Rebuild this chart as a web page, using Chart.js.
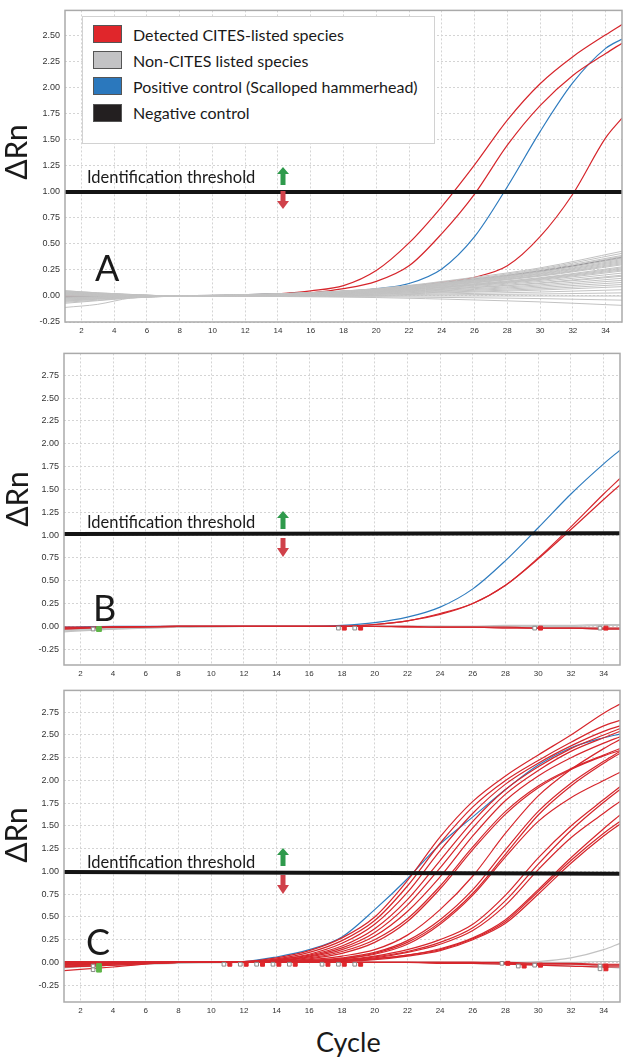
<!DOCTYPE html>
<html>
<head>
<meta charset="utf-8">
<script src="https://cdn.jsdelivr.net/npm/chart.js@4.4.1/dist/chart.umd.min.js"></script>
<style>
    body { margin: 0; background: #fff; }
    #fig { position: relative; width: 625px; height: 1057px; overflow: hidden; font-family: Lato, sans-serif; color: #1a1a1a; }
    canvas { position: absolute; left: 0; }
    .txt { position: absolute; line-height: 1; white-space: nowrap; }
    .rn { position: absolute; font-size: 30px; line-height: 1; white-space: nowrap; transform: translate(-50%, -50%) rotate(-90deg); }
    .letter { position: absolute; font-size: 36px; line-height: 1; }
    .thr { position: absolute; font-size: 16.5px; line-height: 1; white-space: nowrap; }
    #legend { position: absolute; left: 82px; top: 16px; width: 351px; height: 126px; border: 1.5px solid #d2d2d2; background: #fff; }
    .sw { position: absolute; left: 10px; width: 27px; height: 16px; border: 1px solid #555; }
    .lt { position: absolute; left: 50px; font-size: 16px; line-height: 1; white-space: nowrap; }
    svg { position: absolute; }
</style>
</head>
<body>
<div id="fig">
    <canvas id="chartA" width="625" height="340" style="top:0px"></canvas>
    <canvas id="chartB" width="625" height="340" style="top:343px"></canvas>
    <canvas id="chartC" width="625" height="345" style="top:680px"></canvas>

    <div id="legend">
        <div class="sw" style="top:8px;background:#e0262b"></div>
        <div class="lt" style="top:10px">Detected CITES-listed species</div>
        <div class="sw" style="top:34px;background:#c3c3c5"></div>
        <div class="lt" style="top:36px">Non-CITES listed species</div>
        <div class="sw" style="top:60px;background:#2b78bd"></div>
        <div class="lt" style="top:62px">Positive control (Scalloped hammerhead)</div>
        <div class="sw" style="top:87px;background:#231f20"></div>
        <div class="lt" style="top:88px">Negative control</div>
    </div>

    <div class="rn" style="left:15px;top:152px">ΔRn</div>
    <div class="rn" style="left:16px;top:499px">ΔRn</div>
    <div class="rn" style="left:15px;top:835px">ΔRn</div>

    <div class="letter" style="left:95px;top:249px">A</div>
    <div class="letter" style="left:93px;top:589px">B</div>
    <div class="letter" style="left:86px;top:923px">C</div>

    <div class="thr" style="left:87px;top:169px">Identification threshold</div>
    <div class="thr" style="left:87px;top:514px">Identification threshold</div>
    <div class="thr" style="left:87px;top:854px">Identification threshold</div>

    <div class="txt" style="left:316px;top:1028px;font-size:27px">Cycle</div>
</div>

<script>
// cycles at which the amplification curves were read
var cycles = [1, 4, 8, 12, 14, 16, 18, 20, 22, 24, 26, 28, 30, 32, 34, 35];
var greyCycles = [1, 3, 5, 8, 14, 20, 26, 30, 35];
var lineEnds = [1, 35];

var cycleTicks = [2, 4, 6, 8, 10, 12, 14, 16, 18, 20, 22, 24, 26, 28, 30, 32, 34];
var rnTicksA = [-0.25, 0, 0.25, 0.5, 0.75, 1, 1.25, 1.5, 1.75, 2, 2.25, 2.5];
var rnTicksBC = [-0.25, 0, 0.25, 0.5, 0.75, 1, 1.25, 1.5, 1.75, 2, 2.25, 2.5, 2.75];

// ---------- panel A ----------
var aRed = [
    [0, 0, 0, 0, 0.02, 0.05, 0.1, 0.245, 0.51, 0.86, 1.26, 1.69, 2.04, 2.3, 2.51, 2.61],
    [0, 0, 0, 0, 0.01, 0.03, 0.07, 0.14, 0.29, 0.6, 0.98, 1.45, 1.83, 2.12, 2.33, 2.43],
    [0, 0, 0, 0, 0, 0.01, 0.03, 0.06, 0.09, 0.13, 0.18, 0.29, 0.57, 0.98, 1.52, 1.71]
];
var aBlue = [0, 0, 0, 0, 0, 0.01, 0.03, 0.07, 0.12, 0.26, 0.57, 1.05, 1.58, 2.05, 2.38, 2.47];
var aNegative = [-0.01, -0.006, -0.003, 0, 0.02, 0.065, 0.16, 0.24, 0.37];
var aGrey = [
    [0.04, 0.025, 0.012, 0, 0.02, 0.07, 0.18, 0.27, 0.43],
    [-0.02, -0.012, -0.006, 0, 0.02, 0.07, 0.17, 0.26, 0.41],
    [0.03, 0.018, 0.009, 0, 0.02, 0.066, 0.16, 0.25, 0.39],
    [-0.05, -0.03, -0.015, 0, 0.02, 0.065, 0.16, 0.24, 0.38],
    [0.01, 0.006, 0.003, 0, 0.018, 0.063, 0.155, 0.23, 0.37],
    [0.05, 0.03, 0.015, 0, 0.018, 0.06, 0.15, 0.23, 0.36],
    [-0.03, -0.018, -0.009, 0, 0.017, 0.06, 0.147, 0.22, 0.35],
    [0.02, 0.012, 0.006, 0, 0.017, 0.058, 0.143, 0.214, 0.34],
    [-0.06, -0.04, -0.018, 0, 0.016, 0.056, 0.139, 0.208, 0.33],
    [0, 0, 0, 0, 0.016, 0.054, 0.134, 0.2, 0.32],
    [0.03, 0.018, 0.009, 0, 0.015, 0.053, 0.13, 0.195, 0.31],
    [-0.01, -0.006, -0.003, 0, 0.015, 0.051, 0.126, 0.19, 0.3],
    [0.04, 0.024, 0.012, 0, 0.014, 0.048, 0.118, 0.176, 0.28],
    [-0.04, -0.024, -0.012, 0, 0.013, 0.046, 0.113, 0.17, 0.27],
    [0.02, 0.012, 0.006, 0, 0.013, 0.044, 0.109, 0.164, 0.26],
    [-0.11, -0.08, -0.02, 0, 0.012, 0.043, 0.105, 0.158, 0.25],
    [0.01, 0.006, 0.003, 0, 0.012, 0.041, 0.1, 0.15, 0.24],
    [-0.02, -0.012, -0.006, 0, 0.011, 0.037, 0.092, 0.139, 0.22],
    [0.05, 0.03, 0.015, 0, 0.01, 0.034, 0.084, 0.126, 0.2],
    [-0.07, -0.045, -0.02, 0, 0.01, 0.032, 0.08, 0.12, 0.19],
    [0.02, 0.012, 0.006, 0, 0.009, 0.029, 0.071, 0.107, 0.17],
    [-0.03, -0.018, -0.009, 0, 0.008, 0.026, 0.063, 0.095, 0.15],
    [0.03, 0.018, 0.009, 0, 0.007, 0.022, 0.055, 0.082, 0.13],
    [-0.05, -0.03, -0.015, 0, 0.006, 0.019, 0.046, 0.069, 0.11],
    [0, 0, 0, 0, 0.005, 0.015, 0.038, 0.057, 0.09],
    [0.04, 0.024, 0.012, 0, 0.003, 0.01, 0.025, 0.038, 0.06],
    [-0.02, -0.012, -0.006, 0, 0.002, 0.005, 0.013, 0.019, 0.03],
    [0.01, 0.006, 0.003, 0, 0, 0, 0, 0, 0],
    [-0.04, -0.024, -0.012, 0, -0.002, -0.007, -0.017, -0.025, -0.04],
    [0.02, 0.012, 0.006, 0, -0.005, -0.015, -0.038, -0.057, -0.09]
];
var aThreshold = [1.0, 1.0];

// ---------- panel B ----------
var bBlue = [-0.01, 0, 0, 0, 0, 0, 0.01, 0.04, 0.1, 0.21, 0.41, 0.72, 1.08, 1.45, 1.78, 1.93];
var bRed = [
    [-0.02, -0.01, 0, 0, 0, 0, 0, 0.02, 0.06, 0.14, 0.25, 0.45, 0.75, 1.09, 1.45, 1.62],
    [-0.03, -0.01, 0, 0, 0, 0, 0, 0.02, 0.06, 0.13, 0.25, 0.45, 0.74, 1.06, 1.39, 1.55],
    [-0.02, -0.01, 0, 0, 0, 0, 0, 0, -0.01, -0.01, -0.01, -0.02, -0.02, -0.02, -0.02, -0.02],
    [-0.01, -0.01, 0, 0, 0, 0, 0, 0, 0, -0.01, -0.01, -0.01, -0.02, -0.02, -0.03, -0.03]
];
var bGrey = [
    [-0.04, -0.02, 0, 0, 0, 0, 0, 0, 0, 0, 0, 0.01, 0.01, 0.01, 0.02, 0.02],
    [-0.06, -0.03, -0.01, 0, 0, 0, 0, 0, 0, 0, 0, 0, 0, 0, 0.01, 0.01],
    [-0.03, -0.02, 0, 0, 0, 0, 0, 0, 0, -0.01, -0.01, -0.01, -0.02, -0.02, -0.03, -0.03],
    [-0.05, -0.03, -0.01, 0, 0, 0, 0, 0, 0, 0, -0.01, -0.01, -0.01, -0.01, -0.02, -0.02]
];
var bThreshold = [1.01, 1.02];
var bMarkCycles = [18, 19, 30, 34];
var bMarkValues = [-0.02, -0.02, -0.02, -0.02];
var bGreenCycles = [3];
var bGreenValues = [-0.03];

// ---------- panel C ----------
var cBlue = [0, 0, 0, 0.01, 0.06, 0.14, 0.28, 0.58, 0.92, 1.3, 1.6, 1.9, 2.17, 2.36, 2.47, 2.51];
var cRed = [
    [0, 0, 0, 0.01, 0.05, 0.13, 0.27, 0.5, 0.9, 1.38, 1.77, 2.05, 2.28, 2.5, 2.74, 2.84],
    [-0.01, 0, 0, 0.01, 0.04, 0.11, 0.24, 0.46, 0.84, 1.31, 1.71, 2.0, 2.22, 2.42, 2.6, 2.66],
    [0.01, 0, 0, 0, 0.03, 0.09, 0.21, 0.42, 0.77, 1.23, 1.64, 1.96, 2.19, 2.38, 2.54, 2.6],
    [-0.02, -0.01, 0, 0, 0.03, 0.08, 0.18, 0.37, 0.69, 1.12, 1.55, 1.9, 2.15, 2.35, 2.5, 2.57],
    [0, 0, 0, 0, 0.02, 0.07, 0.16, 0.33, 0.63, 1.04, 1.48, 1.85, 2.11, 2.32, 2.47, 2.54],
    [-0.03, -0.01, 0, 0, 0.02, 0.06, 0.14, 0.29, 0.56, 0.94, 1.39, 1.78, 2.05, 2.25, 2.41, 2.48],
    [-0.01, 0, 0, 0, 0.02, 0.05, 0.12, 0.25, 0.48, 0.84, 1.27, 1.66, 1.94, 2.13, 2.28, 2.35],
    [-0.04, -0.02, 0, 0, 0.01, 0.04, 0.1, 0.22, 0.45, 0.81, 1.24, 1.63, 1.92, 2.12, 2.27, 2.33],
    [0, 0, 0, 0, 0.01, 0.03, 0.07, 0.14, 0.3, 0.58, 0.95, 1.42, 1.83, 2.12, 2.35, 2.45],
    [-0.02, -0.01, 0, 0, 0.01, 0.02, 0.05, 0.11, 0.24, 0.47, 0.8, 1.24, 1.66, 1.97, 2.21, 2.32],
    [0.01, 0, 0, 0, 0, 0.02, 0.04, 0.1, 0.22, 0.44, 0.76, 1.19, 1.62, 1.94, 2.19, 2.3],
    [-0.03, -0.01, 0, 0, 0, 0.02, 0.04, 0.09, 0.2, 0.42, 0.74, 1.16, 1.55, 1.81, 2.0, 2.09],
    [0, 0, 0, 0, 0, 0.01, 0.03, 0.07, 0.14, 0.25, 0.42, 0.74, 1.15, 1.5, 1.79, 1.93],
    [-0.01, 0, 0, 0, 0, 0.01, 0.02, 0.06, 0.12, 0.22, 0.38, 0.68, 1.08, 1.45, 1.76, 1.9],
    [-0.02, -0.01, 0, 0, 0, 0.01, 0.02, 0.05, 0.11, 0.2, 0.35, 0.63, 1.02, 1.37, 1.64, 1.77],
    [0, 0, 0, 0, 0, 0, 0.02, 0.04, 0.08, 0.15, 0.27, 0.47, 0.8, 1.15, 1.47, 1.62],
    [-0.05, -0.03, 0, 0, 0, 0, 0.01, 0.04, 0.08, 0.14, 0.26, 0.45, 0.78, 1.12, 1.42, 1.55],
    [-0.09, -0.05, 0, 0, 0, 0, 0.01, 0.03, 0.07, 0.13, 0.25, 0.43, 0.75, 1.09, 1.39, 1.52],
    // non amplified
    [-0.02, -0.01, 0, 0, 0, 0, 0, 0, 0, 0, 0, -0.01, -0.02, -0.02, -0.03, -0.03],
    [-0.05, -0.03, 0, 0, 0, 0, 0, 0, 0, -0.01, -0.01, -0.02, -0.03, -0.04, -0.05, -0.05],
    [0.01, 0, 0, 0, 0, 0, 0, 0, 0, 0, 0, 0, -0.01, -0.01, -0.02, -0.02]
];
var cGrey = [
    [-0.02, -0.01, 0, 0, 0, 0, 0, 0, 0, 0, 0, 0, 0.01, 0.05, 0.14, 0.21],
    [-0.03, -0.02, 0, 0, 0, 0, 0, 0, 0, 0, 0, -0.01, -0.01, -0.02, -0.03, -0.03],
    [-0.04, -0.02, 0, 0, 0, 0, 0, 0, 0, 0, 0, 0, 0, 0, 0.01, 0.01],
    [-0.06, -0.03, -0.01, 0, 0, 0, 0, 0, 0, 0, -0.01, -0.02, -0.03, -0.04, -0.05, -0.06]
];
var cThreshold = [0.995, 0.975];
var cMarkCycles = [11, 12, 13, 14, 15, 17, 18, 19, 28, 29, 30, 34, 34];
var cMarkValues = [-0.02, -0.02, -0.02, -0.02, -0.02, -0.02, -0.02, -0.02, -0.01, -0.04, -0.03, -0.04, -0.07];
var cGreenCycles = [3, 3];
var cGreenValues = [-0.04, -0.08];

var RED = '#d6262c';
var BLUE = '#2f7cbf';
var GREY = '#c2c2c2';

function pts(xs, ys, dx) {
    var out = [];
    for (var i = 0; i < ys.length; i++) {
        out.push({ x: xs[i] + (dx || 0), y: ys[i] });
    }
    return out;
}

function curve(xs, ys, color, width, order) {
    return {
        data: pts(xs, ys),
        borderColor: color,
        borderWidth: width,
        pointRadius: 0,
        cubicInterpolationMode: 'monotone',
        order: order
    };
}

function threshold(ys) {
    return { data: pts(lineEnds, ys), borderColor: '#141414', borderWidth: 4, pointRadius: 0, order: -1 };
}

function markers(xs, ys, fill, size) {
    // each Ct marker is a small outlined box followed by a filled box
    return [
        { data: pts(xs, ys, -0.22), showLine: false, pointStyle: 'rect', pointRadius: 2.6,
          pointBackgroundColor: '#fff', pointBorderColor: '#8a8a8a', pointBorderWidth: 1, order: -2 },
        { data: pts(xs, ys, 0.14), showLine: false, pointStyle: 'rect', pointRadius: size,
          pointBackgroundColor: fill, pointBorderColor: fill, pointBorderWidth: 1, order: -3 }
    ];
}

var boxPlugin = {
    id: 'box',
    afterDraw: function (chart) {
        var a = chart.chartArea;
        var ctx = chart.ctx;
        ctx.save();
        ctx.strokeStyle = '#aaaaaa';
        ctx.lineWidth = 1.5;
        ctx.strokeRect(a.left, a.top, a.right - a.left, a.bottom - a.top);
        ctx.restore();
    }
};

function options(yMin, yMax, yTicks, padTop, padRight, xH, yW) {
    return {
        responsive: false,
        animation: false,
        events: [],
        layout: { padding: { top: padTop, right: padRight, left: 0, bottom: 0 } },
        plugins: { legend: { display: false }, tooltip: { enabled: false } },
        scales: {
            x: {
                type: 'linear', min: 1, max: 35,
                afterBuildTicks: function (s) { s.ticks = cycleTicks.map(function (v) { return { value: v }; }); },
                afterFit: function (s) { s.height = xH; },
                grid: { color: '#d4d4d4', drawTicks: false },
                border: { display: false, dash: [2, 2] },
                ticks: { padding: 4, color: '#333', maxRotation: 0, autoSkip: false, font: { family: 'Liberation Sans', size: 8 } }
            },
            y: {
                min: yMin, max: yMax,
                afterBuildTicks: function (s) { s.ticks = yTicks.map(function (v) { return { value: v }; }); },
                afterFit: function (s) { s.width = yW; },
                grid: { color: '#d4d4d4', drawTicks: false },
                border: { display: false, dash: [2, 2] },
                ticks: { padding: 5, color: '#333', autoSkip: false, font: { family: 'Liberation Sans', size: 9 },
                         callback: function (v) { return Number(v).toFixed(2); } }
            }
        }
    };
}

// panel A
var dsA = [threshold(aThreshold)];
for (var i = 0; i < aGrey.length; i++) dsA.push(curve(greyCycles, aGrey[i], GREY, 1, 2));
dsA.push(curve(greyCycles, aNegative, '#2a2430', 1.2, 3));
for (var i = 0; i < aRed.length; i++) dsA.push(curve(cycles, aRed[i], RED, 1.2, 4));
dsA.push(curve(cycles, aBlue, BLUE, 1.2, 4));

new Chart(document.getElementById('chartA'), {
    type: 'line',
    data: { datasets: dsA },
    options: options(-0.25, 2.745, rnTicksA, 3, 3, 18, 65),
    plugins: [boxPlugin]
});

// panel B
var dsB = [threshold(bThreshold)];
dsB = dsB.concat(markers(bMarkCycles, bMarkValues, '#e0262b', 2.8));
dsB = dsB.concat(markers(bGreenCycles, bGreenValues, '#5fb548', 3.4));
for (var i = 0; i < bRed.length; i++) dsB.push(curve(cycles, bRed[i], RED, 1.2, 1));
dsB.push(curve(cycles, bBlue, BLUE, 1.2, 1.5));
for (var i = 0; i < bGrey.length; i++) dsB.push(curve(cycles, bGrey[i], GREY, 1.2, 2));

new Chart(document.getElementById('chartB'), {
    type: 'line',
    data: { datasets: dsB },
    options: options(-0.424, 2.99, rnTicksBC, 6, 2, 18, 64),
    plugins: [boxPlugin]
});

// panel C
var dsC = [threshold(cThreshold)];
dsC = dsC.concat(markers(cMarkCycles, cMarkValues, '#e0262b', 2.8));
dsC = dsC.concat(markers(cGreenCycles, cGreenValues, '#5fb548', 3.4));
for (var i = 0; i < cRed.length; i++) dsC.push(curve(cycles, cRed[i], RED, 1.2, 1));
dsC.push(curve(cycles, cBlue, BLUE, 1.2, 2));
for (var i = 0; i < cGrey.length; i++) dsC.push(curve(cycles, cGrey[i], GREY, 1.2, 3));

new Chart(document.getElementById('chartC'), {
    type: 'line',
    data: { datasets: dsC },
    options: options(-0.435, 2.99, rnTicksBC, 5, 2, 23, 64),
    plugins: [boxPlugin]
});
</script>

<svg width="14" height="44" style="left:276px;top:166px" viewBox="0 0 14 44">
    <polygon points="7,1 13,8 9.5,8 9.5,19 4.5,19 4.5,8 1,8" fill="#2f9a4c"/>
    <polygon points="4.5,25 9.5,25 9.5,35 13,35 7,43 1,35 4.5,35" fill="#d0414a"/>
</svg>
<svg width="14" height="48" style="left:276px;top:510px" viewBox="0 0 14 48">
    <polygon points="7,1 13,8 9.5,8 9.5,19 4.5,19 4.5,8 1,8" fill="#2f9a4c"/>
    <polygon points="4.5,28 9.5,28 9.5,38 13,38 7,47 1,38 4.5,38" fill="#d0414a"/>
</svg>
<svg width="14" height="48" style="left:276px;top:847px" viewBox="0 0 14 48">
    <polygon points="7,1 13,8 9.5,8 9.5,19 4.5,19 4.5,8 1,8" fill="#2f9a4c"/>
    <polygon points="4.5,28 9.5,28 9.5,38 13,38 7,47 1,38 4.5,38" fill="#d0414a"/>
</svg>
</body>
</html>
